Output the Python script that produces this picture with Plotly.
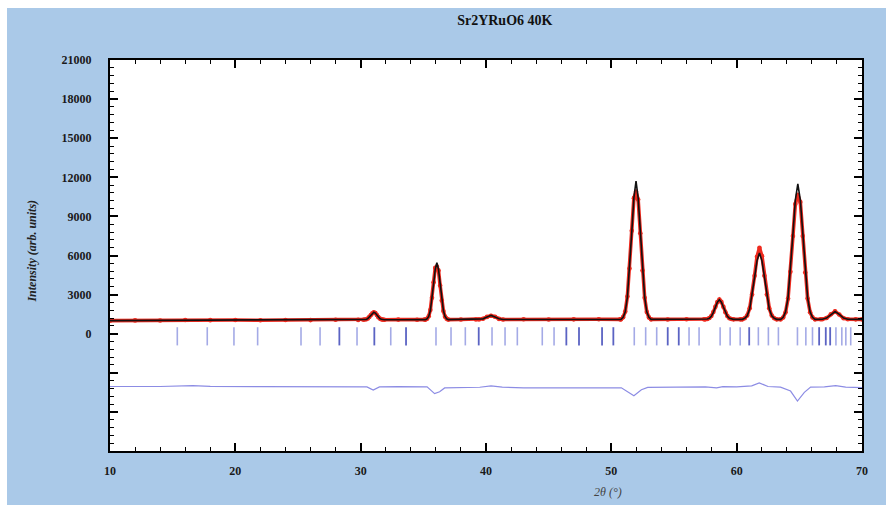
import plotly.graph_objects as go

# ---------------- data ----------------
title_text = "Sr2YRuO6 40K"

calc_x = [10.0, 12.0, 14.0, 16.0, 18.0, 20.0, 22.0, 24.0, 26.0, 28.0, 29.8,
          30.21, 30.33, 30.45, 30.57, 30.69, 30.81, 30.93, 31.05, 31.17, 31.29, 31.41, 31.53, 31.65, 31.77, 31.89,
          33.0, 34.5, 35.1,
          35.17, 35.30, 35.43, 35.56, 35.69, 35.82, 35.95, 36.08, 36.21, 36.34, 36.47, 36.60, 36.73, 36.86, 36.99,
          38.0, 39.2,
          39.44, 39.76, 40.08, 40.40, 40.72, 41.04, 41.36,
          43.0, 45.0, 47.0, 49.0, 50.7,
          50.77, 50.94, 51.11, 51.28, 51.45, 51.63, 51.80, 51.97, 52.14, 52.31, 52.49, 52.66, 52.83, 53.00, 53.17,
          54.5, 56.0, 57.4,
          57.50, 57.66, 57.82, 57.98, 58.14, 58.30, 58.46, 58.62, 58.78, 58.94, 59.10, 59.26, 59.42, 59.58, 59.74,
          60.3,
          60.45, 60.64, 60.84, 61.04, 61.23, 61.43, 61.62, 61.82, 62.02, 62.21, 62.41, 62.60, 62.80, 63.00, 63.19,
          63.51, 63.71, 63.90, 64.10, 64.29, 64.49, 64.68, 64.88, 65.08, 65.27, 65.47, 65.66, 65.86, 66.05, 66.25,
          66.7,
          66.83, 67.17, 67.51, 67.85, 68.19, 68.53, 68.87,
          69.5, 70.0]

calc_y = [1000, 1010, 1020, 1040, 1050, 1045, 1040, 1050, 1055, 1060, 1065,
          1070, 1079, 1102, 1163, 1279, 1435, 1580, 1650, 1580, 1435, 1279, 1163, 1102, 1079, 1070,
          1075, 1080, 1080,
          1080, 1146, 1320, 1779, 2653, 3833, 4926, 5450, 4926, 3833, 2653, 1779, 1320, 1146, 1080,
          1085, 1090,
          1095, 1140, 1285, 1400, 1285, 1140, 1095,
          1100, 1100, 1100, 1100, 1100,
          1100, 1259, 1683, 2796, 4916, 7778, 10428, 11700, 10428, 7778, 4916, 2796, 1683, 1259, 1100,
          1100, 1100, 1100,
          1100, 1123, 1183, 1340, 1640, 2045, 2420, 2600, 2420, 2045, 1640, 1340, 1183, 1123, 1100,
          1100,
          1100, 1177, 1381, 1916, 2936, 4313, 5588, 6200, 5588, 4313, 2936, 1916, 1381, 1177, 1100,
          1100, 1256, 1672, 2764, 4844, 7652, 10252, 11500, 10252, 7652, 4844, 2764, 1672, 1256, 1100,
          1100,
          1109, 1196, 1478, 1700, 1478, 1196, 1109,
          1100, 1100]

obs_x = calc_x
obs_y = [1000, 1020, 1010, 1050, 1040, 1050, 1030, 1055, 1045, 1065, 1060,
         1070, 1085, 1110, 1170, 1290, 1440, 1570, 1640, 1590, 1440, 1270, 1160, 1100, 1080, 1070,
         1080, 1075, 1085,
         1080, 1150, 1340, 1820, 2750, 3950, 5050, 5150, 4850, 3700, 2550, 1740, 1310, 1140, 1080,
         1090, 1085,
         1095, 1150, 1290, 1380, 1300, 1135, 1090,
         1105, 1095, 1100, 1105, 1100,
         1100, 1270, 1700, 2850, 5000, 7900, 10400, 10900, 10300, 7700, 4850, 2750, 1670, 1250, 1100,
         1095, 1105, 1100,
         1100, 1130, 1200, 1360, 1660, 2060, 2430, 2620, 2440, 2060, 1650, 1350, 1190, 1125, 1100,
         1100,
         1100, 1190, 1400, 1960, 3000, 4450, 5900, 6600, 5950, 4450, 3000, 1950, 1390, 1180, 1100,
         1100, 1240, 1640, 2700, 4750, 7500, 9950, 10650, 10100, 7500, 4700, 2700, 1650, 1250, 1100,
         1105,
         1110, 1200, 1490, 1720, 1470, 1190, 1105,
         1100, 1100]

bragg_strong = [28.30, 31.09, 33.62, 39.42, 46.41, 47.42, 49.26, 50.16, 54.50, 55.38,
                61.00, 66.58, 67.11, 67.46]
bragg_weak = [15.37, 17.76, 19.89, 21.78, 25.24, 26.76, 29.71, 32.40, 36.01, 37.21, 38.35,
              40.48, 41.52, 42.50, 44.49, 45.43, 51.83, 52.74, 53.62, 56.20, 57.00, 58.68,
              59.48, 60.28, 61.73, 62.53, 63.33, 64.85, 65.52, 66.05, 67.92, 68.39, 68.71, 69.10]
bragg_level = -200

diff_x = [10, 14, 16.6, 18, 22, 26, 28, 30.5, 31.0, 31.5, 33, 35.3, 35.9, 36.3, 36.7, 38, 39.5,
          40.4, 41.3, 43, 46, 49, 50.8, 51.8, 52.4, 52.9, 55, 57.5, 58.4, 58.9, 60, 61.2, 61.8,
          62.5, 63.5, 64.3, 64.85, 65.4, 65.9, 67, 67.9, 68.7, 70]
diff_y = [-4050, -4050, -3980, -4040, -4060, -4070, -4080, -4080, -4330, -4080, -4060, -4080,
          -4600, -4450, -4160, -4150, -4110, -4000, -4100, -4150, -4170, -4180, -4150, -4760,
          -4300, -4120, -4080, -4080, -4150, -4060, -4080, -4000, -3770, -4050, -4100, -4400,
          -5170, -4500, -4100, -4080, -3980, -4100, -4130]

x_ticks = [10, 20, 30, 40, 50, 60, 70]
y_ticks = [-6000, -3000, 0, 3000, 6000, 9000, 12000, 15000, 18000, 21000]
y_tick_labels = ["", "", "0", "3000", "6000", "9000", "12000", "15000", "18000", "21000"]

# ---------------- figure ----------------
SERIF = "Liberation Serif, Times New Roman, serif"
fig = go.Figure()

# difference curve
fig.add_trace(go.Scatter(x=diff_x, y=diff_y, mode="lines",
                         line=dict(color="#8c8ce4", width=1.2), hoverinfo="skip"))

# Bragg positions
fig.add_trace(go.Scatter(x=bragg_weak, y=[bragg_level] * len(bragg_weak), mode="markers",
                         marker=dict(symbol="line-ns", size=13,
                                     line=dict(color="rgba(90,100,210,0.55)", width=1.6)),
                         hoverinfo="skip"))
fig.add_trace(go.Scatter(x=bragg_strong, y=[bragg_level] * len(bragg_strong), mode="markers",
                         marker=dict(symbol="line-ns", size=13,
                                     line=dict(color="rgba(50,60,180,0.8)", width=1.8)),
                         hoverinfo="skip"))

# observed: band + dots
fig.add_trace(go.Scatter(x=obs_x, y=obs_y, mode="lines",
                         line=dict(color="#ee2a1e", width=3.6), hoverinfo="skip"))
fig.add_trace(go.Scatter(x=obs_x, y=obs_y, mode="markers",
                         marker=dict(color="#ee2a1e", size=4.6), hoverinfo="skip"))
# calculated
fig.add_trace(go.Scatter(x=calc_x, y=calc_y, mode="lines",
                         line=dict(color="#111111", width=1.6), hoverinfo="skip"))

axis_common = dict(showline=True, linecolor="black", linewidth=2, mirror="ticks",
                   ticks="inside", ticklen=8, tickwidth=2, tickcolor="black",
                   showgrid=False, zeroline=False,
                   tickfont=dict(family=SERIF, size=12, color="#1a1a1a"))

fig.update_xaxes(range=[10, 70], tickmode="array", tickvals=x_ticks,
                 ticktext=[f"<b>{v}</b>" for v in x_ticks],
                 minor=dict(tickmode="linear", tick0=10, dtick=2, ticks="inside",
                            ticklen=4, tickwidth=1, tickcolor="black"),
                 ticklabelstandoff=8, **axis_common)
fig.update_yaxes(range=[-9000, 21000], tickmode="array", tickvals=y_ticks,
                 ticktext=[f"<b>{t}</b>" if t else "" for t in y_tick_labels],
                 minor=dict(tickmode="linear", tick0=0, dtick=600, ticks="inside",
                            ticklen=4, tickwidth=1, tickcolor="black"),
                 ticklabelstandoff=14, **axis_common)

BLUE = "#aac9e8"
fig.update_layout(
    width=886, height=505,
    margin=dict(l=110, r=24, t=60, b=54),
    paper_bgcolor=BLUE, plot_bgcolor="white",
    showlegend=False,
    title=dict(text=f"<b>{title_text}</b>", x=0.525, xref="paper", xanchor="center",
               y=1 - 20 / 505, yref="container", yanchor="middle",
               font=dict(family=SERIF, size=14, color="#111111")),
    annotations=[
        dict(text="<b><i>Intensity (arb. units)</i></b>", x=(32 - 110) / 752, y=0.51,
             xref="paper", yref="paper", xanchor="center", yanchor="middle",
             textangle=-90, showarrow=False,
             font=dict(family=SERIF, size=12, color="#222222")),
        dict(text="<i>2θ (°)</i>", x=(608 - 110) / 752, y=(451 - 492) / 391,
             xref="paper", yref="paper", xanchor="center", yanchor="middle",
             showarrow=False, font=dict(family=SERIF, size=12, color="#444444")),
    ],
    shapes=[
        dict(type="rect", xref="paper", yref="paper", x0=-0.2, x1=1.1,
             y0=(451 - 8) / 391, y1=1.2, fillcolor="white", line_width=0, layer="above"),
        dict(type="rect", xref="paper", yref="paper", x0=-0.2, x1=(7 - 110) / 752,
             y0=-0.2, y1=1.2, fillcolor="white", line_width=0, layer="above"),
    ],
)

fig.write_html("out.html")
